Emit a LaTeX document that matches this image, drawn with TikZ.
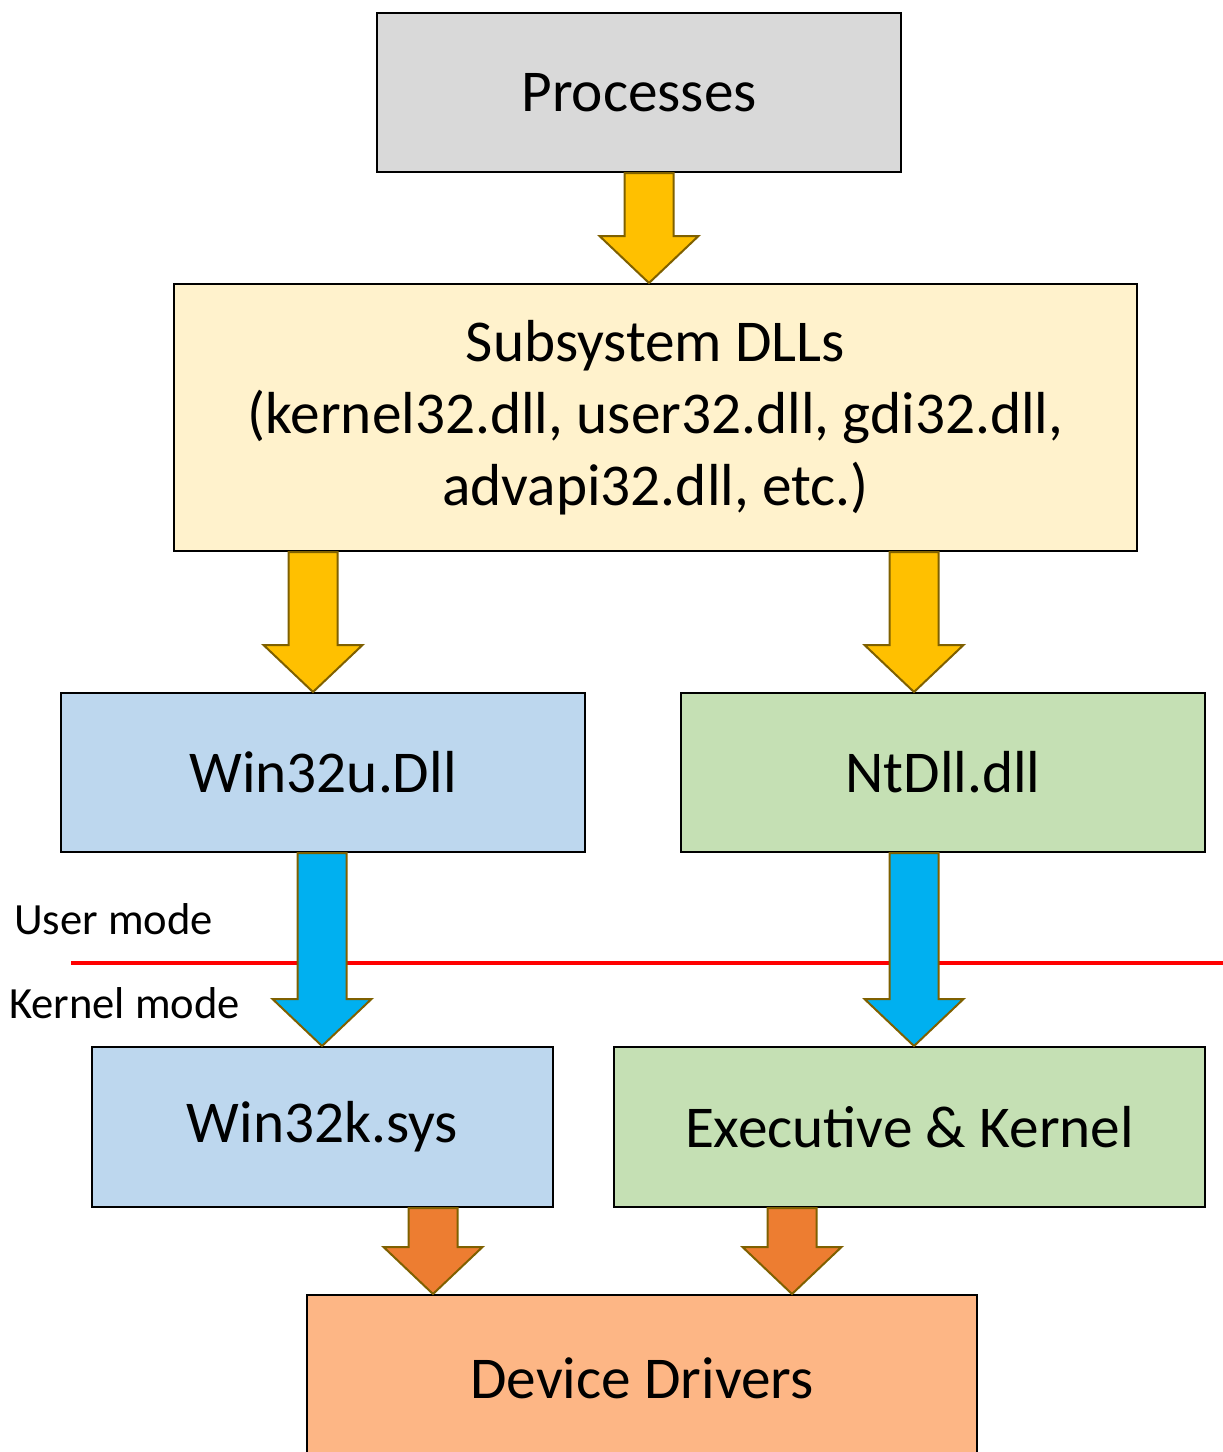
\documentclass[tikz,border=0pt]{standalone}
\usepackage{fontspec}
\setmainfont{Carlito}
\usetikzlibrary{calc}

\definecolor{procgray}{HTML}{D9D9D9}
\definecolor{dllcream}{HTML}{FFF2CC}
\definecolor{winblue}{HTML}{BDD7EE}
\definecolor{ntgreen}{HTML}{C5E0B4}
\definecolor{drvpeach}{HTML}{FDB685}
\definecolor{arryellow}{HTML}{FFC000}
\definecolor{arrblue}{HTML}{00B0F0}
\definecolor{arrorange}{HTML}{ED7D31}
\definecolor{arredge}{HTML}{7F6000}
\definecolor{modered}{HTML}{FF0000}

% Block arrow: #1 fill colour, #2 x position, #3 source node, #4 target node
\newcommand\blockarrow[4]{%
  \path (#3.south -| #2,0) coordinate (ba-from)
        (#4.north -| #2,0) coordinate (ba-to);
  \draw[blockarrowline, fill=#1]
    let \p1 = (ba-from), \p2 = (ba-to) in
    (\x1-24.5pt,\y1) -- (\x1+24.5pt,\y1) -- (\x1+24.5pt,\y2+47pt)
    -- (\x1+49.5pt,\y2+47pt) -- (\x2,\y2) -- (\x1-49.5pt,\y2+47pt)
    -- (\x1-24.5pt,\y2+47pt) -- cycle;
}

\begin{document}
\begin{tikzpicture}[x=1pt, y=-1pt,
  layerbox/.style={draw=black, line width=2pt, rectangle, inner sep=0pt,
    align=center, font=\fontsize{59.3}{72}\selectfont},
  modelabel/.style={anchor=west, inner sep=0pt,
    font=\fontsize{44.6}{50}\selectfont},
  blockarrowline/.style={draw=arredge, line width=2pt, line join=miter},
  modeline/.style={draw=modered, line width=4pt}]

\useasboundingbox (0,0) rectangle (1223,1452);
\clip (0,0) rectangle (1223,1452);

% Layers
\node[layerbox, fill=procgray, minimum width=524pt, minimum height=159pt]
  (proc) at (639,92.5) {Processes};
\node[layerbox, fill=dllcream, minimum width=963pt, minimum height=267pt]
  (subsys) at (655.5,417.5)
  {Subsystem DLLs\\(kernel32.dll, user32.dll, gdi32.dll,\\advapi32.dll, etc.)};
\node[layerbox, fill=winblue, minimum width=524pt, minimum height=159pt]
  (w32u) at (323,772.5) {Win32u.Dll};
\node[layerbox, fill=ntgreen, minimum width=524pt, minimum height=159pt]
  (ntdll) at (943,772.5) {NtDll.dll};
\node[layerbox, fill=winblue, minimum width=461pt, minimum height=160pt]
  (w32k) at (322.5,1127) {Win32k.sys};
\node[layerbox, fill=ntgreen, minimum width=591pt, minimum height=160pt]
  (exec) at (909.5,1127) {Executive \& Kernel};
\node[layerbox, fill=drvpeach, minimum width=670pt, minimum height=166pt]
  (drv) at (642,1378) {Device Drivers};

% User/kernel boundary
\coordinate (bnd-l) at (71,963);
\coordinate (bnd-r) at (1225,963);
\draw[modeline] (bnd-l) -- (bnd-r);
\node[modelabel] (umode) at (14,919) {User mode};
\node[modelabel] (kmode) at (9,1003) {Kernel mode};

% Calls between layers
\blockarrow{arryellow}{649}{proc}{subsys}
\blockarrow{arryellow}{313}{subsys}{w32u}
\blockarrow{arryellow}{914}{subsys}{ntdll}
\blockarrow{arrblue}{322}{w32u}{w32k}
\blockarrow{arrblue}{914}{ntdll}{exec}
\blockarrow{arrorange}{433}{w32k}{drv}
\blockarrow{arrorange}{792}{exec}{drv}

\end{tikzpicture}
\end{document}
